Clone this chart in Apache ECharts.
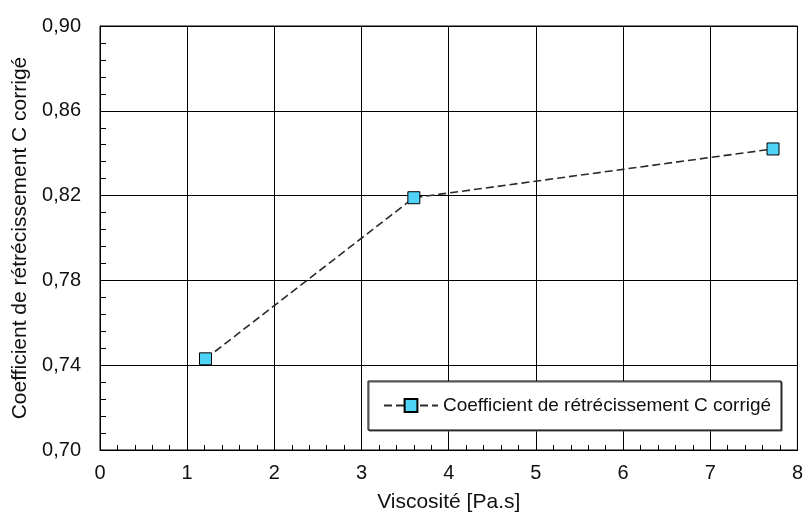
<!DOCTYPE html>
<html>
<head>
<meta charset="utf-8">
<script src="https://cdn.jsdelivr.net/npm/echarts@6/dist/echarts.min.js"></script>
<style>
html,body{margin:0;padding:0;background:#fff;}
#chart{width:806px;height:518px;}
</style>
</head>
<body>
<div id="chart"></div>
<script>
const seriesName = 'Coefficient de rétrécissement C corrigé';
const viscosity = [1.21, 3.60, 7.72];
const coefficient = [0.743, 0.819, 0.842];
const xAxisTitle = 'Viscosité [Pa.s]';
const yAxisTitle = 'Coefficient de rétrécissement C corrigé';
const xRange = [0, 8];
const yRange = [0.70, 0.90];

const font = 'Liberation Sans, Arial, sans-serif';
const textColor = '#111';

const chart = echarts.init(document.getElementById('chart'), null, {renderer: 'canvas'});
chart.setOption({
  animation: false,
  backgroundColor: '#fff',
  grid: {left: 100, right: 7, top: 26, bottom: 65, show: true, borderColor: '#000', borderWidth: 1},
  legend: {
    data: [seriesName],
    left: 368, top: 381,
    orient: 'horizontal',
    padding: [15, 10, 15, 15],
    itemWidth: 54, itemHeight: 16,
    backgroundColor: '#fff',
    borderColor: '#000', borderWidth: 1, borderRadius: 0,
    shadowColor: '#555', shadowOffsetX: 1, shadowOffsetY: 1, shadowBlur: 0,
    textStyle: {fontFamily: font, fontSize: 19, color: textColor}
  },
  xAxis: {
    type: 'value', min: xRange[0], max: xRange[1], interval: 1,
    name: xAxisTitle, nameLocation: 'middle', nameGap: 42,
    nameTextStyle: {fontFamily: font, fontSize: 21, color: textColor},
    axisLine: {show: true, lineStyle: {color: '#000', width: 1}},
    axisTick: {show: true, inside: true, length: 5, lineStyle: {color: '#000'}},
    minorTick: {show: true, splitNumber: 5, length: 5, lineStyle: {color: '#000', width: 1}},
    axisLabel: {fontFamily: font, fontSize: 20, color: textColor, margin: 13},
    splitLine: {show: true, lineStyle: {color: '#000', width: 1}}
  },
  yAxis: {
    type: 'value', min: yRange[0], max: yRange[1], interval: 0.04,
    name: yAxisTitle, nameLocation: 'middle', nameGap: 67, nameRotate: 90,
    nameTextStyle: {fontFamily: font, fontSize: 21, color: textColor},
    axisLine: {show: true, lineStyle: {color: '#000', width: 1}},
    axisTick: {show: true, inside: true, length: 6, lineStyle: {color: '#000'}},
    minorTick: {show: true, splitNumber: 5, length: 6, lineStyle: {color: '#000', width: 1}},
    axisLabel: {fontFamily: font, fontSize: 20, color: textColor, margin: 19,
      formatter: v => v.toFixed(2).replace('.', ',')},
    splitLine: {show: true, lineStyle: {color: '#000', width: 1}}
  },
  series: [{
    name: seriesName,
    type: 'line',
    data: viscosity.map((x, i) => [x, coefficient[i]]),
    symbol: 'rect', symbolSize: 12,
    itemStyle: {color: '#4fd3f7', borderColor: '#000', borderWidth: 1},
    lineStyle: {color: '#2a2a2a', width: 1.6, type: [8, 4]},
    z: 5
  }]
});
</script>
</body>
</html>
